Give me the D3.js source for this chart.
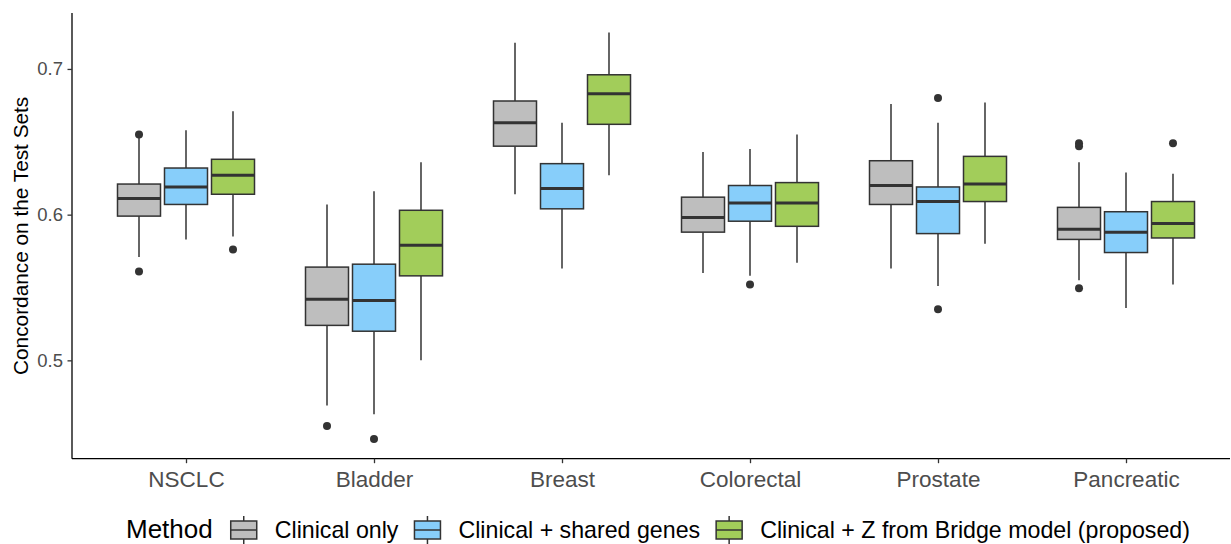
<!DOCTYPE html>
<html>
<head>
<meta charset="utf-8">
<script src="https://cdn.jsdelivr.net/npm/d3@7"></script>
<style>
  html, body { margin: 0; padding: 0; background: #fff; }
  svg { display: block; font-family: "Liberation Sans", Arial, Helvetica, sans-serif; }
</style>
</head>
<body>
<svg id="chart" width="1231" height="544"></svg>
<script>
// ---- data ----
const categories = ["NSCLC", "Bladder", "Breast", "Colorectal", "Prostate", "Pancreatic"];
const methods = ["Clinical only", "Clinical + shared genes", "Clinical + Z from Bridge model (proposed)"];
const colors = ["#BEBEBE", "#87CEFA", "#A2CD5A"];
const yTicks = [0.5, 0.6, 0.7];

// [lower whisker, Q1, median, Q3, upper whisker] per category
const clinicalOnly = [
  [0.571, 0.599, 0.611, 0.621, 0.653],
  [0.469, 0.524, 0.542, 0.564, 0.607],
  [0.614, 0.647, 0.663, 0.678, 0.718],
  [0.560, 0.588, 0.598, 0.612, 0.643],
  [0.563, 0.607, 0.620, 0.637, 0.676],
  [0.555, 0.583, 0.590, 0.605, 0.636]
];
const clinicalShared = [
  [0.583, 0.607, 0.619, 0.632, 0.658],
  [0.463, 0.520, 0.541, 0.566, 0.616],
  [0.563, 0.604, 0.618, 0.635, 0.663],
  [0.558, 0.5955, 0.608, 0.620, 0.645],
  [0.551, 0.587, 0.609, 0.619, 0.663],
  [0.536, 0.574, 0.588, 0.602, 0.629]
];
const clinicalBridge = [
  [0.585, 0.614, 0.627, 0.638, 0.671],
  [0.500, 0.558, 0.579, 0.603, 0.636],
  [0.627, 0.662, 0.683, 0.696, 0.725],
  [0.567, 0.592, 0.608, 0.622, 0.655],
  [0.580, 0.609, 0.621, 0.640, 0.677],
  [0.552, 0.584, 0.594, 0.609, 0.628]
];
// outliers per category
const outClinicalOnly = [[0.655, 0.561], [0.455], [], [], [], [0.649, 0.647, 0.5495]];
const outClinicalShared = [[], [0.446], [], [0.552], [0.680, 0.535], []];
const outClinicalBridge = [[0.576], [], [], [], [], [0.649]];

const stats = [clinicalOnly, clinicalShared, clinicalBridge];
const outliers = [outClinicalOnly, outClinicalShared, outClinicalBridge];

// ---- layout ----
const svg = d3.select("#chart");
const plotLeft = 72, plotRight = 1230, plotTop = 13, plotBottom = 458.7;
const ink = "#333333";

const y = d3.scaleLinear().domain([0.4325, 0.7384]).range([plotBottom, plotTop]);
const x = d3.scalePoint().domain(categories).range([186, 1126]);
const dodge = d3.scaleBand().domain(methods).range([-68.5, 68.5]).paddingInner(0.085);
const bw = dodge.bandwidth();

// boxes
methods.forEach((m, mi) => {
  const g = svg.append("g");
  categories.forEach((c, ci) => {
    const [lo, q1, med, q3, hi] = stats[mi][ci];
    const left = x(c) + dodge(m);
    const cx = left + bw / 2;
    // whiskers
    g.append("line").attr("x1", cx).attr("x2", cx).attr("y1", y(q3)).attr("y2", y(hi))
      .attr("stroke", ink).attr("stroke-width", 1.5);
    g.append("line").attr("x1", cx).attr("x2", cx).attr("y1", y(q1)).attr("y2", y(lo))
      .attr("stroke", ink).attr("stroke-width", 1.5);
    // box
    g.append("rect").attr("x", left).attr("y", y(q3)).attr("width", bw).attr("height", y(q1) - y(q3))
      .attr("fill", colors[mi]).attr("stroke", ink).attr("stroke-width", 1.5);
    // median
    g.append("line").attr("x1", left).attr("x2", left + bw).attr("y1", y(med)).attr("y2", y(med))
      .attr("stroke", ink).attr("stroke-width", 3);
    // outliers
    outliers[mi][ci].forEach(v => {
      g.append("circle").attr("cx", cx).attr("cy", y(v)).attr("r", 4).attr("fill", ink);
    });
  });
});

// y axis
const yAxis = svg.append("g").attr("transform", `translate(${plotLeft},0)`)
  .call(d3.axisLeft(y).tickValues(yTicks).tickFormat(d3.format(".1f")).tickSize(4.5).tickPadding(4.5));
yAxis.select(".domain").attr("d", `M0,${plotTop}V${plotBottom}`).attr("stroke", "#000").attr("stroke-width", 1.3);
yAxis.selectAll(".tick line").attr("stroke", ink).attr("stroke-width", 1.3);
yAxis.selectAll(".tick text").attr("fill", "#4D4D4D").style("font-size", "18.5px")
  .style("font-family", "'Liberation Sans', Arial, sans-serif");

// x axis
const xAxis = svg.append("g").attr("transform", `translate(0,${plotBottom})`)
  .call(d3.axisBottom(x).tickSize(4.5).tickPadding(8));
xAxis.select(".domain").attr("d", `M${plotLeft},0H${plotRight}`).attr("stroke", "#000").attr("stroke-width", 1.3);
xAxis.selectAll(".tick line").attr("stroke", ink).attr("stroke-width", 1.3);
xAxis.selectAll(".tick text").attr("fill", "#4D4D4D").style("font-size", "22.5px")
  .style("font-family", "'Liberation Sans', Arial, sans-serif");

// y title
svg.append("text")
  .attr("transform", `translate(27.5,${(plotTop + plotBottom) / 2}) rotate(-90)`)
  .attr("text-anchor", "middle")
  .style("font-size", "20.8px").attr("fill", "#000")
  .text("Concordance on the Test Sets");

// legend
const legY = 538; // text baseline
const leg = svg.append("g");
const title = leg.append("text").attr("x", 126).attr("y", legY).style("font-size", "26px").attr("fill", "#000").text("Method");
let cursor = 126 + title.node().getComputedTextLength() + 18;
methods.forEach((m, mi) => {
  const kx = cursor, kw = 26;
  leg.append("line").attr("x1", kx + kw / 2).attr("x2", kx + kw / 2).attr("y1", 516).attr("y2", 544)
    .attr("stroke", ink).attr("stroke-width", 1.5);
  leg.append("rect").attr("x", kx).attr("y", 521).attr("width", kw).attr("height", 18)
    .attr("fill", colors[mi]).attr("stroke", ink).attr("stroke-width", 1.5);
  leg.append("line").attr("x1", kx).attr("x2", kx + kw).attr("y1", 530).attr("y2", 530)
    .attr("stroke", ink).attr("stroke-width", 1.5);
  const t = leg.append("text").attr("x", kx + kw + 18).attr("y", legY).style("font-size", "23.2px")
    .attr("fill", "#000").text(m);
  cursor = kx + kw + 18 + t.node().getComputedTextLength() + 16;
});
</script>
</body>
</html>
